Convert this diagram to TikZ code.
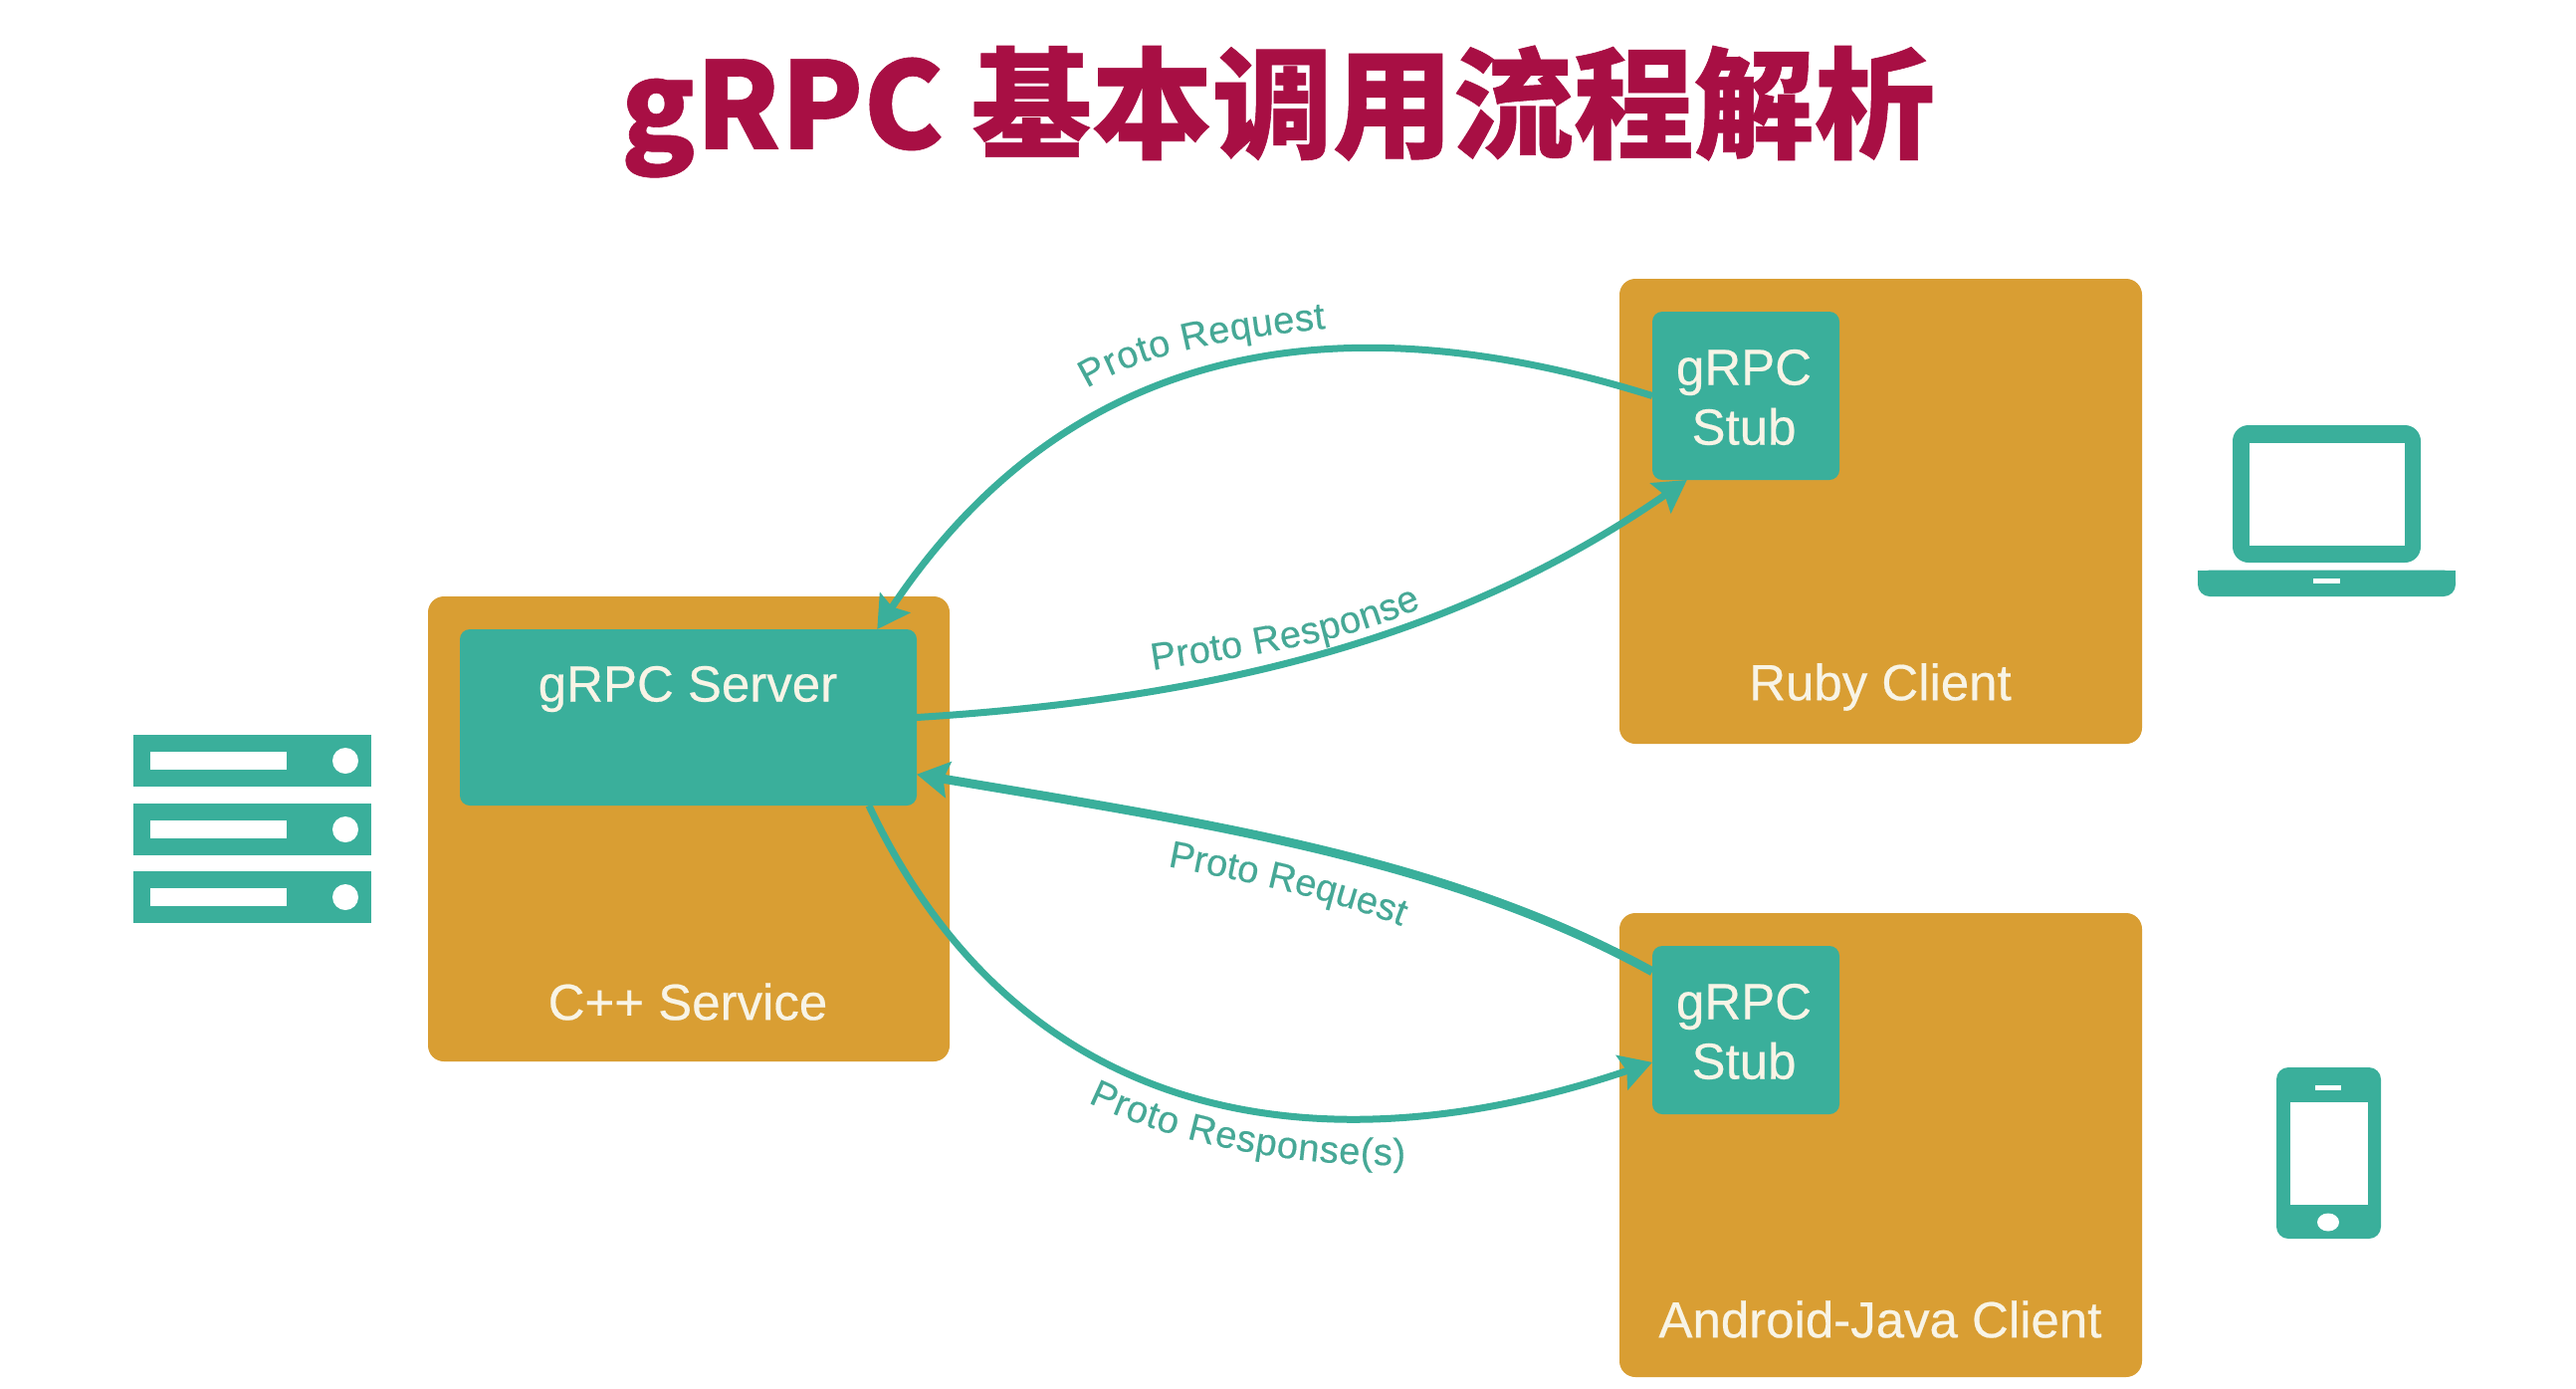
\documentclass[tikz,border=0pt]{standalone}
\usepackage{fontspec}
\setmainfont{Liberation Sans}
\newfontfamily\medfont[FakeBold=0.4]{Liberation Sans}
\newfontfamily\cjkfont[BoldFeatures={FakeBold=0.5}]{Noto Sans CJK SC}
\usetikzlibrary{arrows.meta,decorations.text}
\definecolor{boxorange}{RGB}{217,158,51}
\definecolor{boxteal}{RGB}{58,175,155}
\definecolor{labelteal}{RGB}{70,168,150}
\definecolor{titlered}{RGB}{168,15,68}
\definecolor{boxtext}{RGB}{248,244,230}
\newcommand{\protofont}{\medfont\fontsize{19}{24}\selectfont\color{labelteal}}
\tikzset{
  outerbox/.style={fill=boxorange,rounded corners=8pt,inner sep=0pt,outer sep=0pt},
  innerbox/.style={fill=boxteal,rounded corners=5pt,inner sep=0pt,outer sep=0pt},
  boxlabel/.style={text=boxtext,font=\medfont\fontsize{25.5}{30}\selectfont,inner sep=0pt},
  flow/.style={draw=boxteal,line width=3.5pt,-{Stealth[length=16pt,width=18pt,inset=2.5pt]}},
  icon/.style={fill=boxteal},
  hole/.style={fill=white},
  curved label/.style={decorate,decoration={text along path,text align=fit to path,text={|\protofont|#1}}}
}
\begin{document}
\begin{tikzpicture}[x=0.5pt,y=-0.5pt]
\useasboundingbox[fill=white] (0,0) rectangle (2588,1394);
\node (title) at (1284,112) [text=titlered,inner sep=0pt,font=\cjkfont\bfseries\fontsize{60.5}{64}\selectfont] {gRPC 基本调用流程解析};
% boxes
\node (service) at (692,832.5) [outerbox,minimum width=262pt,minimum height=233.5pt] {};
\node (server) at (691.5,720.5) [innerbox,minimum width=229.5pt,minimum height=88.5pt] {};
\node (ruby) at (1889.5,513.5) [outerbox,minimum width=262.5pt,minimum height=233.5pt] {};
\node (android) at (1889.5,1150) [outerbox,minimum width=262.5pt,minimum height=233pt] {};
\node (stubA) at (1754,397.5) [innerbox,minimum width=94pt,minimum height=84.5pt] {};
\node (stubB) at (1754,1034.5) [innerbox,minimum width=94pt,minimum height=84.5pt] {};
\node (stubAtext) at (1752,399) [boxlabel,align=center] {gRPC\\Stub};
\node (stubBtext) at (1752,1036) [boxlabel,align=center] {gRPC\\Stub};
\node (serverlabel) at (691,692) [boxlabel] {gRPC Server};
\node (servicelabel) at (691,1006) [boxlabel] {C++ Service};
\node (rubylabel) at (1889,690) [boxlabel] {Ruby Client};
\node (androidlabel) at (1889,1325) [boxlabel] {Android-Java Client};
% connectors
\draw[flow] (stubA.west) .. controls (1380,310) and (1090,320) .. (server.25);
\draw[flow] (server.east) .. controls (1250,700) and (1480,630) .. (stubA.235.1);
\draw[flow,line width=4.5pt] (stubB.148.5) .. controls (1450,860) and (1200,825) .. (server.-14.3);
\draw[flow] (server.-26) .. controls (1030,1140) and (1340,1175) .. (stubB.199.6);
% curved labels
\path[curved label={Proto Request}] (1092,390) .. controls (1150,355) and (1230,340) .. (1332,330);
\path[curved label={Proto Response}] (1158,673) .. controls (1240,660) and (1340,650) .. (1428,610);
\path[curved label={Proto Request}] (1173,870) .. controls (1250,885) and (1330,900) .. (1408,930);
\path[curved label={Proto Response(s)}] (1093,1107) .. controls (1170,1145) and (1290,1172) .. (1412,1170);
% server icon
\foreach \ry in {738,807,875}{
  \fill[icon] (134,\ry) rectangle (373,\ry+52);
  \fill[hole] (151,\ry+17) rectangle (288,\ry+35);
  \fill[hole] (347,\ry+26) circle[radius=6.5pt];
}
% laptop icon
\fill[icon,rounded corners=8pt] (2243,427) rectangle (2432,565);
\fill[hole] (2260,445) rectangle (2416,548);
\fill[icon,rounded corners=6pt] (2208,572.5) -- (2467,572.5) -- (2467,599) -- (2208,599) -- cycle;
\fill[icon] (2208,572.5) rectangle (2467,585);
\fill[hole] (2324,581) rectangle (2351,586);
% phone icon
\fill[icon,rounded corners=6pt] (2287,1072) rectangle (2392,1244);
\fill[hole] (2301,1107) rectangle (2379,1210);
\fill[hole] (2326,1090) rectangle (2352,1095);
\fill[hole] (2339,1227.5) ellipse[x radius=5.5pt,y radius=4.5pt];
\end{tikzpicture}
\end{document}
